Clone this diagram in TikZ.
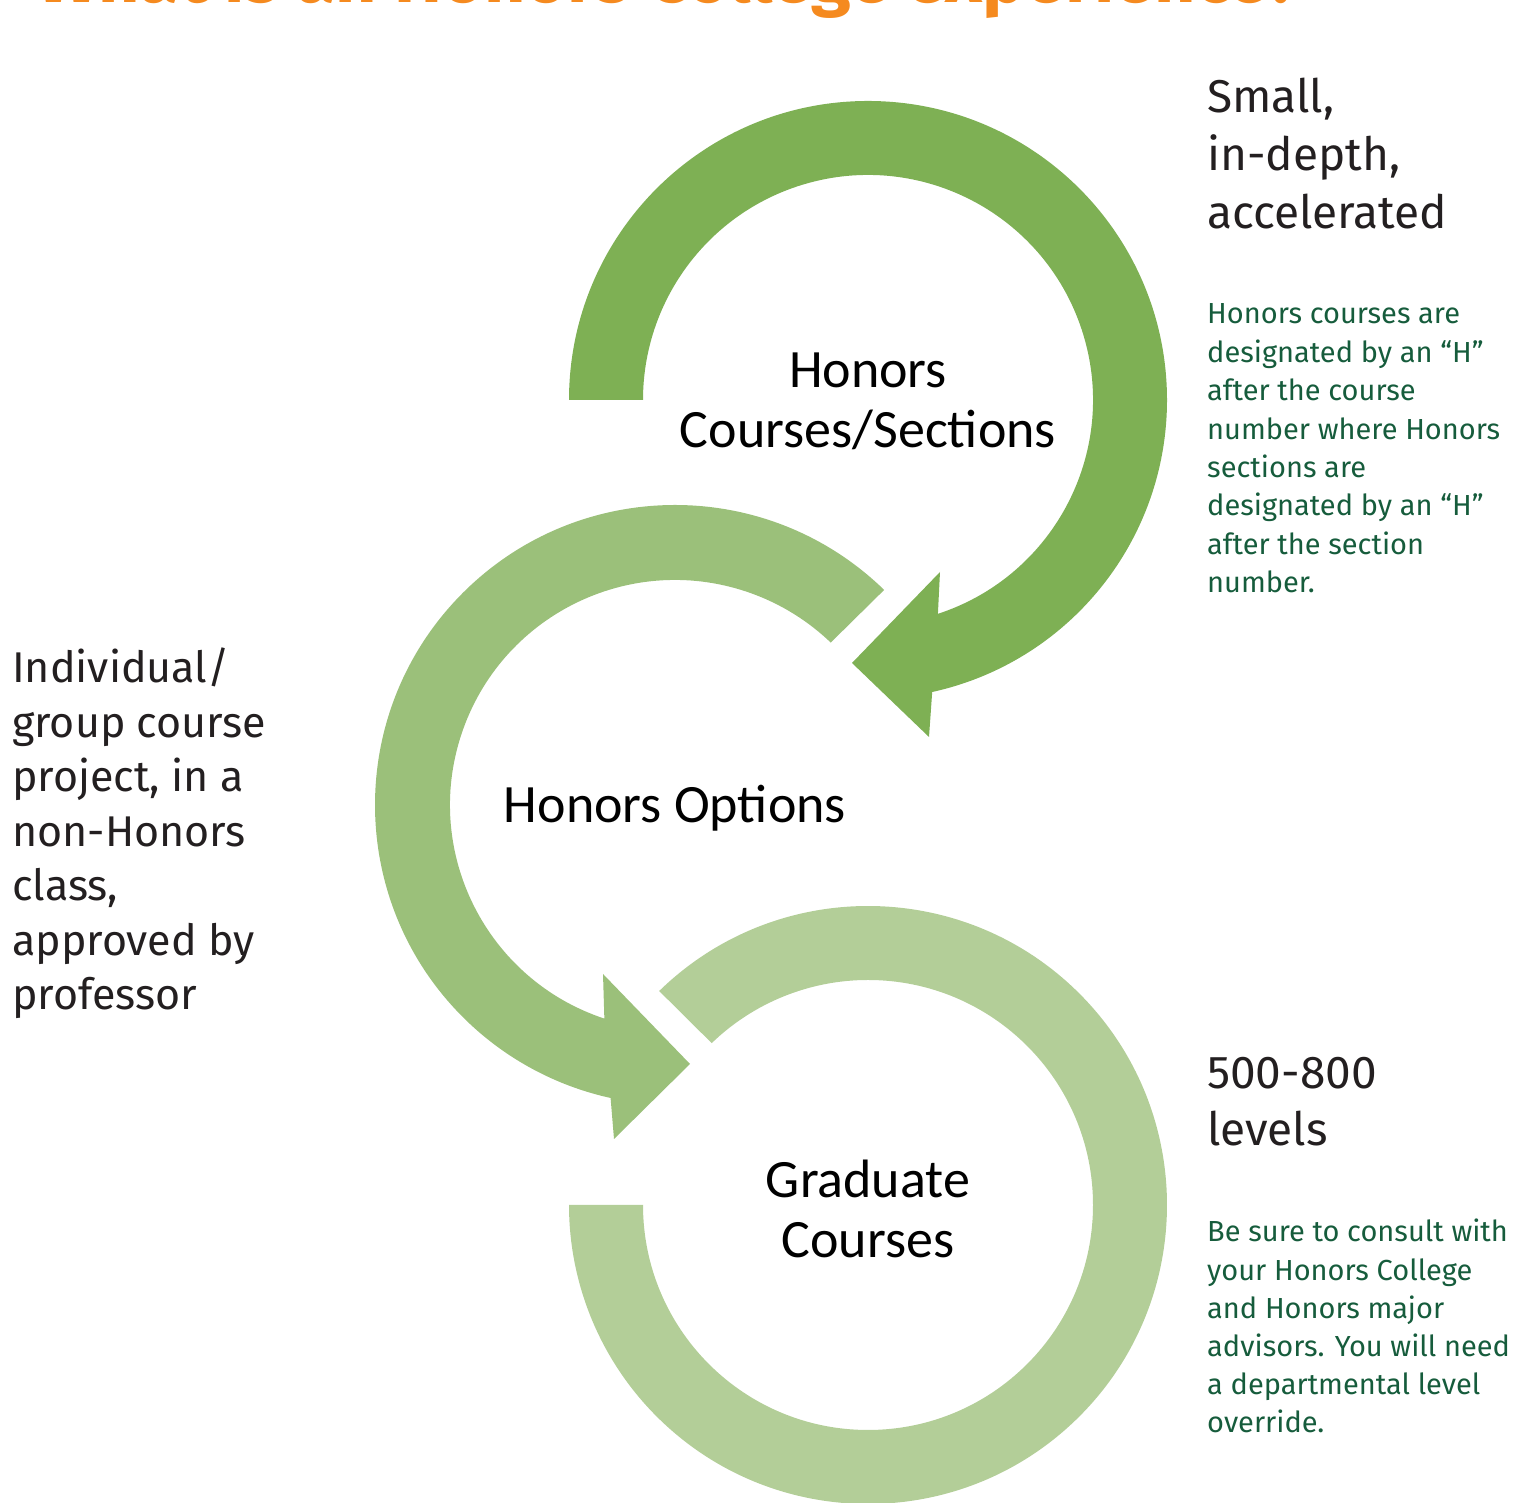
\documentclass[tikz,border=0pt]{standalone}
\usepackage{fontspec}
\setmainfont{Fira Sans}
\newfontfamily\calfont{Carlito}
\definecolor{ringA}{RGB}{126,176,84}
\definecolor{ringB}{RGB}{155,192,122}
\definecolor{ringC}{RGB}{179,206,152}
\definecolor{txtgreen}{RGB}{22,92,60}
\definecolor{txtdark}{RGB}{35,31,32}
\definecolor{titleorange}{RGB}{245,138,31}
\begin{document}
\begin{tikzpicture}[x=1pt,y=1pt,
  lbl/.style={inner sep=0pt,anchor=base,font=\calfont\fontsize{54}{60}\selectfont,text=black},
  bigside/.style={inner sep=0pt,anchor=base west,font=\fontsize{46}{58}\selectfont,text=txtdark},
  leftside/.style={inner sep=0pt,anchor=base west,font=\fontsize{43}{54}\selectfont,text=txtdark},
  smallside/.style={inner sep=0pt,anchor=base west,font=\fontsize{29}{38}\selectfont,text=txtgreen}]
\useasboundingbox (0,0) rectangle (1521,1503);
% title (cut off at top, as in the reference)
\node[inner sep=0pt,anchor=base west,text=titleorange,font=\bfseries\fontsize{72}{74}\selectfont] (title) at (37,1500) {What is an Honors College experience?};
% ring 1 (top)
\fill[ringA] ([shift={(868,1103)}]180:299) arc[start angle=180,end angle=-77.6,radius=299]
  -- (929,766) -- (852,840) -- (940,931) -- ([shift={(868,1103)}]-71.9:225)
  arc[start angle=-71.9,end angle=180,radius=225] -- cycle;
% ring 2 (middle)
\fill[ringB] ([shift={(675,698)}]45.8:300) arc[start angle=45.8,end angle=257.6,radius=300]
  -- (614,364) -- (690,439) -- (603,529) -- ([shift={(675,698)}]251.7:225)
  arc[start angle=251.7,end angle=46.2,radius=225] -- cycle;
% ring 3 (bottom)
\fill[ringC] ([shift={(868,298)}]134.3:299) arc[start angle=134.3,end angle=-180,radius=299]
  -- ([shift={(868,298)}]180:225) arc[start angle=-180,end angle=134,radius=225] -- cycle;
% circle labels
\node[lbl] (hc1) at (868,1115) {Honors};
\node[lbl] (hc2) at (868,1055) {Courses/Sections};
\node[lbl] (ho) at (675,680) {Honors Options};
\node[lbl] (gc1) at (868,305) {Graduate};
\node[lbl] (gc2) at (868,245) {Courses};
% right top
\foreach \t [count=\i] in {{Small,},{in-depth,},{accelerated}}
  \node[bigside] (rt\i) at (1207,{1390-58*(\i-1)}) {\t};
\foreach \t [count=\i] in {{Honors courses are},{designated by an “H”},{after the course},{number where Honors},{sections are},{designated by an “H”},{after the section},{number.}}
  \node[smallside] (rg\i) at (1207,{1179-38.4*(\i-1)}) {\t};
% left
\foreach \t [count=\i] in {{Individual/},{group course},{project, in a},{non-Honors},{class,},{approved by},{professor}}
  \node[leftside] (lt\i) at (12,{820-54.5*(\i-1)}) {\t};
% right bottom
\foreach \t [count=\i] in {{500-800},{levels}}
  \node[bigside] (rb\i) at (1207,{414-57*(\i-1)}) {\t};
\foreach \t [count=\i] in {{Be sure to consult with},{your Honors College},{and Honors major},{advisors. You will need},{a departmental level},{override.}}
  \node[smallside] (bg\i) at (1207,{261-38.2*(\i-1)}) {\t};
\end{tikzpicture}
\end{document}
